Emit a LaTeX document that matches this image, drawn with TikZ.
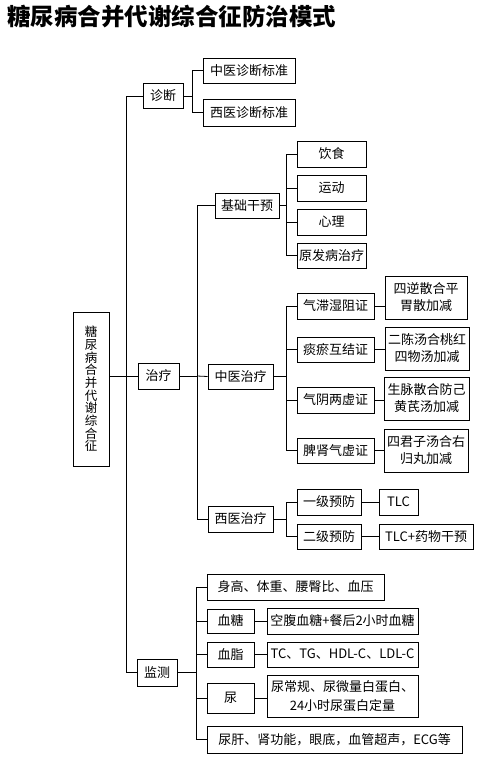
\documentclass[tikz,border=0pt]{standalone}
\usepackage{fontspec}
\setmainfont{Noto Sans CJK SC}
\begin{document}
\begin{tikzpicture}[x=1pt,y=-1pt,
  box/.style={draw, line width=0.8pt, inner sep=0pt, align=center,
    font=\fontsize{13}{17}\selectfont},
  wire/.style={line width=0.8pt}]
\useasboundingbox (0,0) rectangle (500,759);
% title
\node[anchor=west, inner sep=0pt, font=\fontsize{23.5}{26}\selectfont\bfseries] (title) at (7,16.5) {糖尿病合并代谢综合征防治模式};
% root
\node[box, minimum width=36pt, minimum height=154pt, font=\fontsize{12.5}{12.7}\selectfont] (root) at (91,389) {糖\\尿\\病\\合\\并\\代\\谢\\综\\合\\征};
% level 1
\node[box, minimum width=40pt, minimum height=25pt] (zd) at (163,96) {诊断};
\node[box, minimum width=41pt, minimum height=26pt] (zl) at (158.5,376) {治疗};
\node[box, minimum width=40pt, minimum height=27pt] (jc) at (157,672.5) {监测};
% diagnosis
\node[box, minimum width=92pt, minimum height=25pt] (zyzd) at (249,70.5) {中医诊断标准};
\node[box, minimum width=92pt, minimum height=27pt] (xyzd) at (249,112.5) {西医诊断标准};
% treatment level 2
\node[box, minimum width=64pt, minimum height=25pt] (jcgy) at (247,205.5) {基础干预};
\node[box, minimum width=65pt, minimum height=25pt] (zyzl) at (240.5,376.5) {中医治疗};
\node[box, minimum width=65pt, minimum height=26pt] (xyzl) at (240.5,519) {西医治疗};
% basic
\node[box, minimum width=69pt, minimum height=26pt] (ys) at (331.5,154) {饮食};
\node[box, minimum width=69pt, minimum height=26pt] (yd) at (331.5,188) {运动};
\node[box, minimum width=69pt, minimum height=26pt] (xl) at (331.5,222) {心理};
\node[box, minimum width=69pt, minimum height=25pt] (yfb) at (331.5,255.5) {原发病治疗};
% TCM
\node[box, minimum width=77pt, minimum height=26pt] (z1) at (335.5,306) {气滞湿阻证};
\node[box, minimum width=77pt, minimum height=25pt] (z2) at (335.5,349.5) {痰瘀互结证};
\node[box, minimum width=77pt, minimum height=26pt] (z3) at (335.5,400) {气阴两虚证};
\node[box, minimum width=77pt, minimum height=25pt] (z4) at (335.5,450.5) {脾肾气虚证};
\node[box, minimum width=82pt, minimum height=43pt] (f1) at (426,297.5) {四逆散合平\\胃散加减};
\node[box, minimum width=84pt, minimum height=43pt] (f2) at (427,348.5) {二陈汤合桃红\\四物汤加减};
\node[box, minimum width=85pt, minimum height=43pt] (f3) at (426.5,398.5) {生脉散合防己\\黄芪汤加减};
\node[box, minimum width=84pt, minimum height=43pt] (f4) at (426,450.5) {四君子汤合右\\归丸加减};
% Western
\node[box, minimum width=64pt, minimum height=26pt] (y1) at (329,502) {一级预防};
\node[box, minimum width=64pt, minimum height=25pt] (y2) at (329,536.5) {二级预防};
\node[box, minimum width=39pt, minimum height=26pt] (t1) at (398.5,502) {TLC};
\node[box, minimum width=94pt, minimum height=25pt] (t2) at (426,536.5) {TLC+药物干预};
% monitoring
\node[box, minimum width=177pt, minimum height=26pt] (m1) at (295.5,587) {身高、体重、腰臀比、血压};
\node[box, minimum width=47pt, minimum height=24pt] (m2) at (230.5,621) {血糖};
\node[box, minimum width=47pt, minimum height=25pt] (m3) at (230.5,654.5) {血脂};
\node[box, minimum width=47pt, minimum height=30pt] (m4) at (230.5,698) {尿};
\node[box, minimum width=255pt, minimum height=27pt] (m5) at (334.5,739.5) {尿肝、肾功能，眼底，血管超声，ECG等};
\node[box, minimum width=151pt, minimum height=26pt] (n2) at (342.5,621) {空腹血糖+餐后2小时血糖};
\node[box, minimum width=151pt, minimum height=25pt] (n3) at (342.5,654.5) {TC、TG、HDL-C、LDL-C};
\node[box, minimum width=151pt, minimum height=42pt, font=\fontsize{13}{19}\selectfont] (n4) at (342.5,696) {尿常规、尿微量白蛋白、\\24小时尿蛋白定量};
% bus coordinates
\coordinate (b0) at (126,376);
\coordinate (b1) at (192,96);
\coordinate (b2) at (197,376);
\coordinate (b3) at (286,205.5);
\coordinate (b4) at (286,376.5);
\coordinate (b5) at (286,519);
\coordinate (b6) at (196,672.5);
% connectors
\draw[wire] (root.east |- b0) -- (b0);
\draw[wire] (b0) |- (zd.west);
\draw[wire] (b0) -- (zl.west);
\draw[wire] (b0) |- (jc.west);
\draw[wire] (zd.east) -- (b1);
\draw[wire] (b1) |- (zyzd.west);
\draw[wire] (b1) |- (xyzd.west);
\draw[wire] (zl.east) -- (b2);
\draw[wire] (b2) |- (jcgy.west);
\draw[wire] (b2) -- (zyzl.west);
\draw[wire] (b2) |- (xyzl.west);
\draw[wire] (jcgy.east) -- (b3);
\foreach \c in {ys,yd,xl,yfb} \draw[wire] (b3) |- (\c.west);
\draw[wire] (zyzl.east) -- (b4);
\foreach \c in {z1,z2,z3,z4} \draw[wire] (b4) |- (\c.west);
\draw[wire] (xyzl.east) -- (b5);
\foreach \c in {y1,y2} \draw[wire] (b5) |- (\c.west);
\draw[wire] (jc.east) -- (b6);
\foreach \c in {m1,m2,m3,m4,m5} \draw[wire] (b6) |- (\c.west);
\draw[wire] (z1.east) -- (z1.east -| f1.west);
\draw[wire] (z2.east) -- (z2.east -| f2.west);
\draw[wire] (z3.east) -- (z3.east -| f3.west);
\draw[wire] (z4.east) -- (z4.east -| f4.west);
\draw[wire] (y1.east) -- (t1.west);
\draw[wire] (y2.east) -- (t2.west);
\draw[wire] (m2.east) -- (n2.west);
\draw[wire] (m3.east) -- (n3.west);
\draw[wire] (m4.east) -- (m4.east -| n4.west);
\end{tikzpicture}
\end{document}
